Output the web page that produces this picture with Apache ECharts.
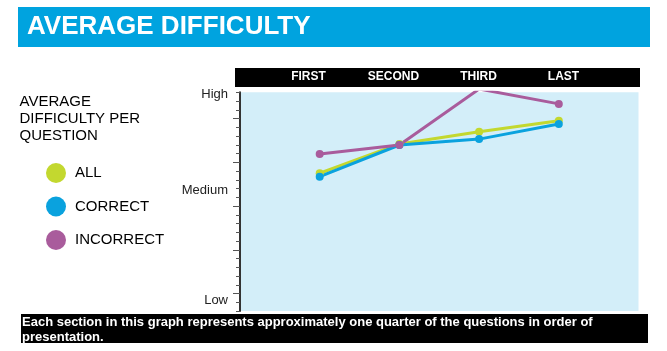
<!DOCTYPE html>
<html lang="en">
<head>
  <meta charset="UTF-8">
  <title>Average Difficulty</title>
  <style>
    html, body { margin: 0; padding: 0; background: #fff; }
    #main { width: 667px; height: 351px; }
  </style>
</head>
<body>
<div id="main"></div>
<script src="https://cdn.jsdelivr.net/npm/echarts@6/dist/echarts.min.js"></script>
<script>
  // quarters of the test, in order
  var sections = ['FIRST', 'SECOND', 'THIRD', 'LAST'];
  // difficulty scale: 0 = bottom of the plot, 100 = top
  var allQ = [63.0, 76.4, 82.0, 87.0];
  var correctQ = [61.4, 75.9, 78.6, 85.5];
  var incorrectQ = [71.8, 75.9, 101.5, 94.7];
  var levelNames = ['Low', 'Medium', 'High'];
  var levelValues = [5, 55.3, 99.2];
  var majorTicks = [8, 28, 48, 68, 88];

  var colors = { all: '#c3d82f', correct: '#0aa2de', incorrect: '#a95c9c' };

  // pad the category axis so the four points sit inside the plot
  var xCats = [''].concat(sections, ['']);
  function toPoints(arr) {
    return arr.map(function (v, i) { return [i + 1, v]; });
  }

  var myChart = echarts.init(document.getElementById('main'));

  var options = {
    animation: false,
    textStyle: { fontFamily: 'Liberation Sans, Arial, sans-serif' },
    graphic: [
      { type: 'rect', shape: { x: 18, y: 7, width: 632, height: 40 }, style: { fill: '#00a3df' } },
      { type: 'text', x: 27, y: 26.5, style: { text: 'AVERAGE DIFFICULTY', fill: '#fff', font: 'bold 26px "Liberation Sans", Arial, sans-serif', verticalAlign: 'middle' } },
      { type: 'rect', shape: { x: 235, y: 68, width: 405, height: 19 }, style: { fill: '#000' }, z: -1 },
      { type: 'text', x: 19.5, y: 93, style: { text: 'AVERAGE\nDIFFICULTY PER\nQUESTION', fill: '#000', font: '15px "Liberation Sans", Arial, sans-serif', lineHeight: 17 } },
      { type: 'rect', shape: { x: 21, y: 314, width: 627, height: 29 }, style: { fill: '#000' } },
      { type: 'text', x: 22, y: 315.5, style: { text: 'Each section in this graph represents approximately one quarter of the questions in order of\npresentation.', fill: '#fff', font: 'bold 13px "Liberation Sans", Arial, sans-serif', lineHeight: 14.5 } }
    ],
    legend: {
      orient: 'vertical',
      left: 41,
      top: 158,
      icon: 'circle',
      itemWidth: 20,
      itemHeight: 20,
      itemGap: 13.5,
      textStyle: { fontSize: 15, color: '#000', padding: [0, 0, 0, 4] },
      data: ['ALL', 'CORRECT', 'INCORRECT']
    },
    grid: [
      { left: 240, right: 28.5, top: 92.3, bottom: 40, show: true, backgroundColor: '#d3eef9', borderWidth: 0 },
      { left: 266, width: 340, top: 77, height: 1 }
    ],
    xAxis: [
      {
        type: 'category', gridIndex: 0, data: xCats, boundaryGap: false,
        axisLine: { show: false }, axisTick: { show: false }, axisLabel: { show: false }, splitLine: { show: false }
      },
      {
        type: 'category', gridIndex: 1, data: sections, position: 'top', z: 10,
        axisLine: { show: false }, axisTick: { show: false },
        axisLabel: { margin: 0, verticalAlign: 'middle', color: '#fff', fontWeight: 'bold', fontSize: 12 }
      }
    ],
    yAxis: [
      {
        type: 'value', gridIndex: 0, position: 'left', min: 0, max: 100, interval: 4,
        axisLine: { show: true, lineStyle: { color: '#333', width: 2 } },
        axisTick: { show: true, length: 4, lineStyle: { color: '#555' } },
        axisLabel: { show: false }, splitLine: { show: false }
      },
      {
        type: 'value', gridIndex: 0, position: 'left', min: 0, max: 100,
        axisLine: { show: false },
        axisTick: { show: true, length: 7, customValues: majorTicks, lineStyle: { color: '#555' } },
        axisLabel: {
          margin: 12, fontSize: 13, color: '#222', customValues: levelValues,
          formatter: function (v) {
            var i = levelValues.indexOf(v);
            return i >= 0 ? levelNames[i] : '';
          }
        },
        splitLine: { show: false }
      },
      { type: 'value', gridIndex: 1, show: false }
    ],
    series: [
      { name: 'ALL', type: 'line', data: toPoints(allQ), color: colors.all, symbol: 'circle', symbolSize: 8, lineStyle: { width: 3 }, clip: true },
      { name: 'CORRECT', type: 'line', data: toPoints(correctQ), color: colors.correct, symbol: 'circle', symbolSize: 8, lineStyle: { width: 3 }, clip: true },
      { name: 'INCORRECT', type: 'line', data: toPoints(incorrectQ), color: colors.incorrect, symbol: 'circle', symbolSize: 8, lineStyle: { width: 3 }, clip: true }
    ]
  };

  myChart.setOption(options);
  window.addEventListener('resize', function () {
    myChart.resize();
  });
</script>
</body>
</html>
